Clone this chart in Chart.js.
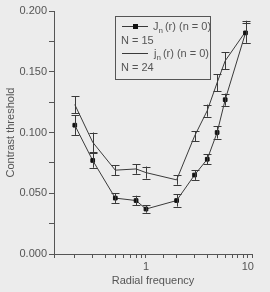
<!DOCTYPE html>
<html>
<head>
  <meta charset="UTF-8">
  <title>Contrast threshold</title>
  <script src="https://cdn.jsdelivr.net/npm/chart.js"></script>
  <style>
    html, body { margin: 0; padding: 0; background: #ececec; }
    #wrap { width: 270px; height: 292px; position: relative; }
  </style>
</head>
<body>
  <div id="wrap"><canvas id="chart" width="270" height="292"></canvas></div>
  <script>
    // radial frequency (log axis)
    const freq = [0.2, 0.3, 0.5, 0.8, 1, 2, 3, 4, 5, 6, 9.5];
    // J_n(r), N = 15 (squares)
    const jnMean = [0.106, 0.077, 0.046, 0.044, 0.037, 0.044, 0.065, 0.078, 0.100, 0.127, 0.182];
    const jnErr  = [0.008, 0.006, 0.004, 0.004, 0.003, 0.005, 0.004, 0.004, 0.005, 0.005, 0.008];
    // j_n(r), N = 24 (plain line)
    const jsMean = [0.123, 0.092, 0.069, 0.070, 0.067, 0.061, 0.097, 0.118, 0.141, 0.159, 0.183];
    const jsErr  = [0.007, 0.008, 0.004, 0.004, 0.005, 0.004, 0.004, 0.005, 0.007, 0.007, 0.009];
    const yTicks = [0, 0.025, 0.05, 0.075, 0.1, 0.125, 0.15, 0.175, 0.2];

    const ink = '#3a3a3a';
    const txt = '#555';
    const font = 'Liberation Sans, Arial, sans-serif';

    const toPts = (m) => freq.map((f, i) => ({ x: f, y: m[i] }));

    const errorBars = {
      id: 'errorBars',
      afterDatasetsDraw(chart) {
        const { ctx, scales: { x, y } } = chart;
        const sets = [[jnMean, jnErr], [jsMean, jsErr]];
        ctx.save();
        ctx.strokeStyle = ink;
        ctx.lineWidth = 1;
        sets.forEach(([m, e]) => {
          freq.forEach((f, i) => {
            const px = Math.round(x.getPixelForValue(f)) + 0.5;
            const top = y.getPixelForValue(m[i] + e[i]);
            const bot = y.getPixelForValue(m[i] - e[i]);
            ctx.beginPath();
            ctx.moveTo(px, top); ctx.lineTo(px, bot);
            ctx.moveTo(px - 4, Math.round(top) + 0.5); ctx.lineTo(px + 4, Math.round(top) + 0.5);
            ctx.moveTo(px - 4, Math.round(bot) + 0.5); ctx.lineTo(px + 4, Math.round(bot) + 0.5);
            ctx.stroke();
          });
        });
        ctx.restore();
      }
    };

    const boxLegend = {
      id: 'boxLegend',
      afterDraw(chart) {
        const ctx = chart.ctx;
        const bx = 115.5, by = 16.5, bw = 95, bh = 63;
        ctx.save();
        ctx.fillStyle = '#ececec';
        ctx.fillRect(bx, by, bw, bh);
        ctx.strokeStyle = txt;
        ctx.lineWidth = 1;
        ctx.strokeRect(bx, by, bw, bh);
        ctx.beginPath();
        ctx.rect(bx, by, bw, bh);
        ctx.clip();
        ctx.strokeStyle = ink;
        ctx.beginPath();
        ctx.moveTo(122, 26.5); ctx.lineTo(148, 26.5);
        ctx.moveTo(122, 53.5); ctx.lineTo(148, 53.5);
        ctx.stroke();
        ctx.fillStyle = '#111';
        ctx.fillRect(133, 24, 5, 5);
        ctx.fillStyle = txt;
        ctx.textBaseline = 'alphabetic';
        const label = (x0, yb, main) => {
          ctx.font = '11px ' + font;
          ctx.fillText(main, x0, yb);
          let w = ctx.measureText(main).width;
          ctx.font = '8px ' + font;
          ctx.fillText('n', x0 + w, yb + 3);
          w += ctx.measureText('n').width + 2;
          ctx.font = '11px ' + font;
          ctx.fillText('(r) (n = 0)', x0 + w, yb);
        };
        label(153, 30, 'J');
        label(154, 57, 'j');
        ctx.font = '11px ' + font;
        ctx.fillText('N = 15', 121, 44);
        ctx.fillText('N = 24', 121, 71);
        ctx.restore();
      }
    };

    new Chart(document.getElementById('chart'), {
      type: 'line',
      data: {
        datasets: [
          {
            label: 'Jn (r) (n = 0) N = 15',
            data: toPts(jnMean),
            borderColor: ink,
            borderWidth: 1,
            pointStyle: 'rect',
            pointRadius: 2.6,
            pointBackgroundColor: '#111',
            pointBorderColor: '#111'
          },
          {
            label: 'jn (r) (n = 0) N = 24',
            data: toPts(jsMean),
            borderColor: ink,
            borderWidth: 1,
            pointRadius: 0
          }
        ]
      },
      options: {
        responsive: false,
        animation: false,
        layout: { padding: { top: 11, right: 18, left: 0, bottom: 0 } },
        plugins: { legend: { display: false }, tooltip: { enabled: false } },
        scales: {
          x: {
            type: 'logarithmic',
            min: 0.125,
            max: 11,
            afterFit: s => { s.height = 38; },
            border: { color: txt, width: 1 },
            grid: { display: true, drawOnChartArea: false, tickLength: 4, color: txt },
            ticks: {
              color: txt,
              font: { size: 11, family: font },
              autoSkip: false,
              maxRotation: 0,
              padding: 2,
              callback: v => (v === 1 || v === 10) ? String(v) : ''
            },
            title: { display: true, text: 'Radial frequency', color: txt, font: { size: 11, family: font }, padding: { top: 0 } }
          },
          y: {
            min: 0,
            max: 0.2,
            afterFit: s => { s.width = 54; },
            afterBuildTicks: s => { s.ticks = yTicks.map(v => ({ value: v })); },
            border: { color: txt, width: 1 },
            grid: { display: true, drawOnChartArea: false, tickLength: 5, color: txt },
            ticks: {
              color: txt,
              font: { size: 11, family: font },
              padding: 2,
              callback: v => (Math.round(v * 1000) % 50 === 0) ? v.toFixed(3) : ''
            },
            title: { display: true, text: 'Contrast threshold', color: txt, font: { size: 11, family: font }, padding: { bottom: 2 } }
          }
        }
      },
      plugins: [errorBars, boxLegend]
    });
  </script>
</body>
</html>
